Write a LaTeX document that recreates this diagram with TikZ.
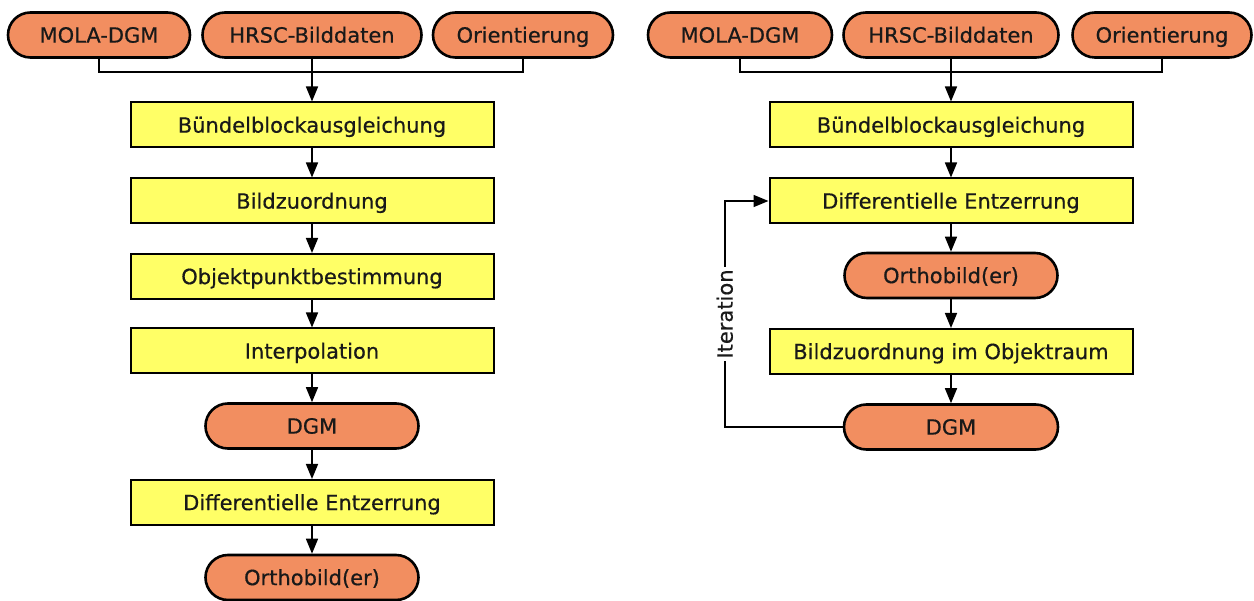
\documentclass[tikz,border=0pt]{standalone}
\usepackage{fontspec}
\setmainfont[BoldFont={DejaVu Sans}, BoldFeatures={FakeBold=0.5}]{DejaVu Sans}
\usetikzlibrary{shapes.misc,arrows.meta}
\definecolor{pillorange}{RGB}{242,142,96}
\definecolor{boxyellow}{RGB}{255,255,102}
\begin{document}
\begin{tikzpicture}[x=1pt,y=-1pt,
  txt/.style={font=\fontsize{21}{24}\selectfont\bfseries, text height=15.3pt, text depth=0pt, text=black!90},
  pill/.style={txt, rounded rectangle, draw=black, line width=2.6pt, fill=pillorange, minimum height=45pt, inner sep=0pt},
  proc/.style={txt, rectangle, draw=black, line width=2pt, fill=boxyellow, minimum width=363pt, minimum height=45pt, inner sep=0pt},
  conn/.style={line width=1.6pt},
  arr/.style={conn, -{Triangle[length=15pt,width=12pt]}}]
\useasboundingbox (0,0) rectangle (1254,601);
\fill[white] (0,0) rectangle (1254,601);

% ---------- left panel ----------
\node[pill, minimum width=182pt] (lmola)   at (99,35)  {MOLA-DGM};
\node[pill, minimum width=219pt] (lhrsc)   at (312,35) {HRSC-Bilddaten};
\node[pill, minimum width=180pt] (lorient) at (523,35) {Orientierung};
\coordinate (ljoin) at (312,72);

\node[proc] (lb1) at (312,125)   {Bündelblockausgleichung};
\node[proc] (lb2) at (312,201)   {Bildzuordnung};
\node[proc] (lb3) at (312,276.5) {Objektpunktbestimmung};
\node[proc] (lb4) at (312,351)   {Interpolation};
\node[pill, minimum width=213pt] (ldgm) at (312,426) {DGM};
\node[proc] (lb5) at (312,502.5) {Differentielle Entzerrung};
\node[pill, minimum width=213pt] (lortho) at (312,577.5) {Orthobild(er)};

\draw[conn] (lmola.south) |- (ljoin) -| (lorient.south);
\draw[arr] (lhrsc.south) -- (lb1.north);
\draw[arr] (lb1.south) -- (lb2.north);
\draw[arr] (lb2.south) -- (lb3.north);
\draw[arr] (lb3.south) -- (lb4.north);
\draw[arr] (lb4.south) -- (ldgm.north);
\draw[arr] (ldgm.south) -- (lb5.north);
\draw[arr] (lb5.south) -- (lortho.north);

% ---------- right panel ----------
\node[pill, minimum width=184pt] (rmola)   at (740,35)  {MOLA-DGM};
\node[pill, minimum width=215pt] (rhrsc)   at (951,35)  {HRSC-Bilddaten};
\node[pill, minimum width=179pt] (rorient) at (1162,35) {Orientierung};
\coordinate (rjoin) at (951,72);

\node[proc] (rb1) at (951,125) {Bündelblockausgleichung};
\node[proc] (rdiff) at (951,201) {Differentielle Entzerrung};
\node[pill, minimum width=213pt] (rortho) at (951,275.5) {Orthobild(er)};
\node[proc] (rzuord) at (951,351.5) {Bildzuordnung im Objektraum};
\node[pill, minimum width=214pt] (rdgm) at (951,427) {DGM};
\coordinate (rloop) at (725,314);

\draw[conn] (rmola.south) |- (rjoin) -| (rorient.south);
\draw[arr] (rhrsc.south) -- (rb1.north);
\draw[arr] (rb1.south) -- (rdiff.north);
\draw[arr] (rdiff.south) -- (rortho.north);
\draw[arr] (rortho.south) -- (rzuord.north);
\draw[arr] (rzuord.south) -- (rdgm.north);
\draw[arr] (rdgm.west) -| (rloop) |- (rdiff.west);
\node[txt, rotate=90, fill=white, inner xsep=2pt, inner ysep=1pt] (iterlbl) at (rloop) {Iteration};
\end{tikzpicture}
\end{document}
